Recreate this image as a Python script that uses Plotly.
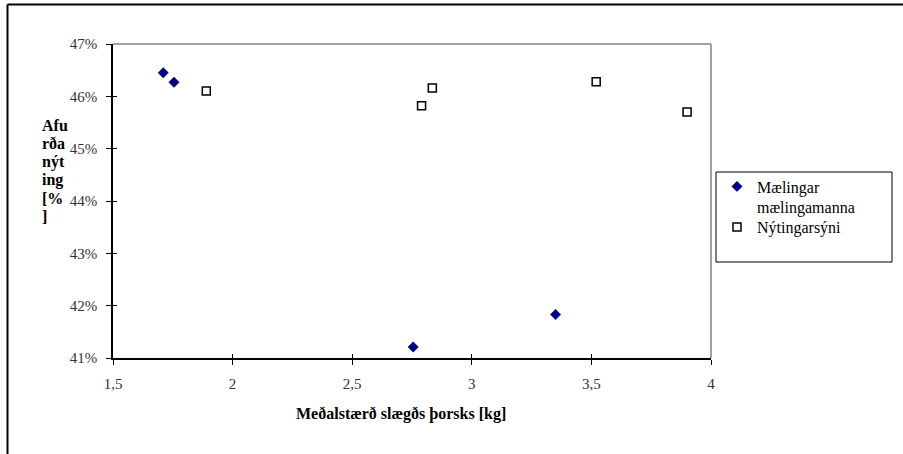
import plotly.graph_objects as go

# Data
maelingar_x = [1.71, 1.755, 2.755, 3.35]
maelingar_y = [0.4645, 0.4627, 0.4121, 0.4183]
nyting_x = [1.89, 2.79, 2.835, 3.52, 3.90]
nyting_y = [0.4610, 0.4582, 0.4616, 0.4628, 0.4570]
x_ticks = [1.5, 2, 2.5, 3, 3.5, 4]
y_ticks = [0.41, 0.42, 0.43, 0.44, 0.45, 0.46, 0.47]
y_title_lines = ["Afu", "rða", "nýt", "ing", "[%", "]"]
x_title = "Meðalstærð slægðs þorsks [kg]"

FONT = "Liberation Serif"
L, R, T, B = 113, 192, 44, 96
W, H = 903, 454
pw, ph = W - L - R, H - T - B

def px(x):
    return (x - L) / pw

def py(y):
    return (H - B - y) / ph

fig = go.Figure()
fig.add_trace(go.Scatter(
    x=maelingar_x, y=maelingar_y, mode="markers",
    name="Mælingar<br>mælingamanna", legend="legend",
    marker=dict(symbol="diamond", size=8, color="#000080",
                line=dict(width=0.5, color="#000080")),
))
fig.add_trace(go.Scatter(
    x=nyting_x, y=nyting_y, mode="markers",
    name="Nýtingarsýni", legend="legend2",
    marker=dict(symbol="square", size=8, color="white",
                line=dict(width=1.5, color="black")),
))
# overlay axes for inside tick halves
fig.add_trace(go.Scatter(x=[None], y=[None], xaxis="x2", yaxis="y2",
                         showlegend=False, hoverinfo="skip"))

tickfont = dict(family=FONT, size=15, color="#333333")
legfont = dict(family=FONT, size=16, color="black")
fig.update_layout(
    width=W, height=H,
    margin=dict(l=L, r=R, t=T, b=B),
    paper_bgcolor="white", plot_bgcolor="white",
    separators=", ",
    showlegend=True,
    legend=dict(x=px(717), y=py(197), xanchor="left", yanchor="middle", valign="top",
                font=legfont, bgcolor="rgba(0,0,0,0)", borderwidth=0, itemwidth=30),
    legend2=dict(x=px(717), y=py(227), xanchor="left", yanchor="middle",
                 font=legfont, bgcolor="rgba(0,0,0,0)", borderwidth=0, itemwidth=30),
    xaxis=dict(range=[1.5, 4], tickvals=x_ticks, showgrid=False, zeroline=False,
               showline=True, linecolor="black", linewidth=1.5,
               ticks="outside", ticklen=5, tickcolor="black", tickwidth=1,
               tickfont=tickfont, ticklabelstandoff=6),
    yaxis=dict(range=[0.41, 0.47], tickvals=y_ticks, tickformat=".0%",
               showgrid=False, zeroline=False,
               showline=True, linecolor="black", linewidth=1.5,
               ticks="outside", ticklen=5, tickcolor="black", tickwidth=1,
               tickfont=tickfont, ticklabelstandoff=6),
    xaxis2=dict(range=[1.5, 4], tickvals=x_ticks, overlaying="x", anchor="y",
                showticklabels=False, showgrid=False, zeroline=False,
                ticks="inside", ticklen=4, tickcolor="black", tickwidth=1),
    yaxis2=dict(range=[0.41, 0.47], tickvals=y_ticks, overlaying="y", anchor="x",
                showticklabels=False, showgrid=False, zeroline=False,
                ticks="inside", ticklen=4, tickcolor="black", tickwidth=1),
)

shapes = [
    # plot area top & right (grey)
    dict(type="line", xref="paper", yref="paper", x0=0, x1=1, y0=1, y1=1,
         line=dict(color="#808080", width=1.5)),
    dict(type="line", xref="paper", yref="paper", x0=1, x1=1, y0=0, y1=1,
         line=dict(color="#808080", width=1.5)),
    # outer chart frame (top & left)
    dict(type="line", xref="paper", yref="paper", x0=px(7.5), x1=px(910), y0=py(4.5), y1=py(4.5),
         line=dict(color="black", width=2)),
    dict(type="line", xref="paper", yref="paper", x0=px(7.5), x1=px(7.5), y0=py(4.5), y1=py(460),
         line=dict(color="black", width=2)),
    # legend box
    dict(type="rect", xref="paper", yref="paper", x0=px(716), x1=px(892), y0=py(262), y1=py(172),
         line=dict(color="black", width=1), fillcolor="rgba(0,0,0,0)"),
]
fig.update_layout(shapes=shapes)

for i, line in enumerate(y_title_lines):
    fig.add_annotation(text="<b>" + line + "</b>", xref="paper", yref="paper",
                       x=px(40), y=py(125 + 18.3 * i), xanchor="left", yanchor="middle",
                       align="left", showarrow=False,
                       font=dict(family=FONT, size=16, color="black"))
fig.add_annotation(text="<b>" + x_title + "</b>", xref="paper", yref="paper",
                   x=px(401), y=py(414), xanchor="center", yanchor="middle",
                   showarrow=False, font=dict(family=FONT, size=16, color="black"))

fig.write_html("out.html")
